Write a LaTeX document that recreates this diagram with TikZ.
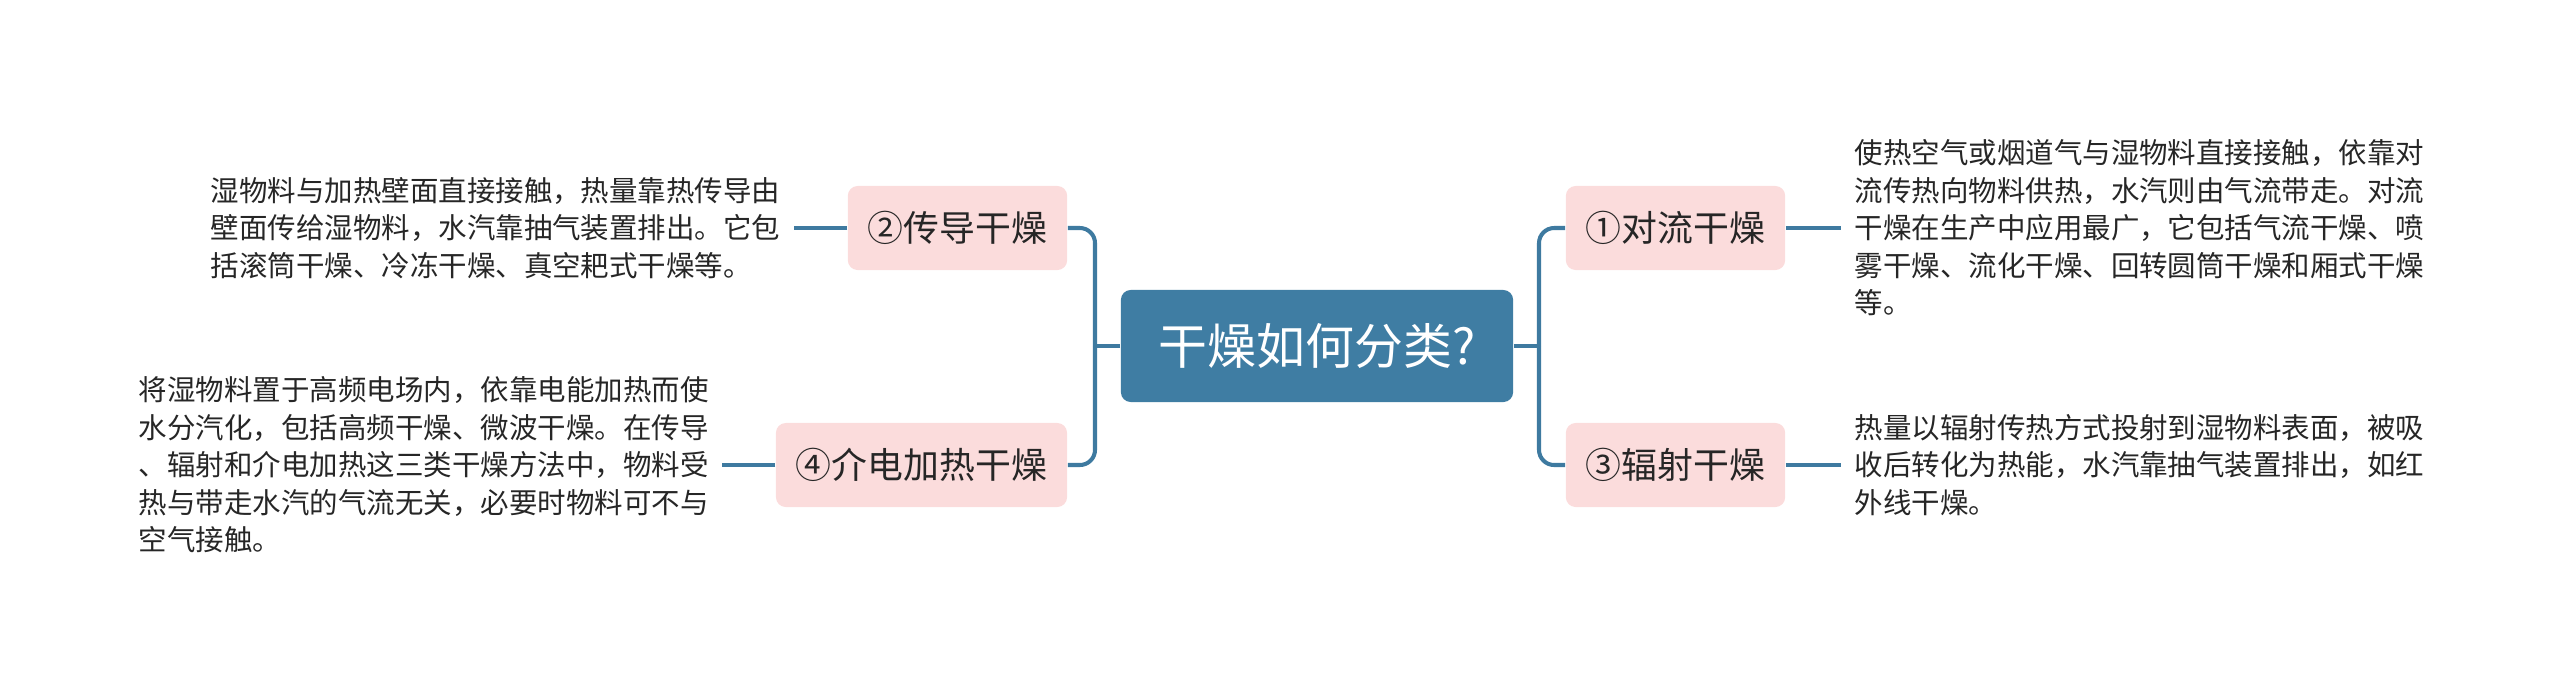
\documentclass[tikz,border=0pt]{standalone}
\usepackage{fontspec}
\setmainfont{Noto Sans CJK SC}
\usetikzlibrary{positioning}
\definecolor{topicblue}{RGB}{63,125,163}
\definecolor{linkblue}{RGB}{62,122,160}
\definecolor{subpink}{RGB}{251,220,220}
\definecolor{inkgray}{RGB}{38,38,38}

\begin{document}
\begin{tikzpicture}[
  x=0.01cm, y=-0.01cm,
  topic/.style={fill=topicblue, rounded corners=2.8pt, text=white,
                font=\fontsize{13.9pt}{16pt}\selectfont, minimum width=3.92cm,
                minimum height=1.12cm, inner sep=0pt},
  sub/.style={fill=subpink, rounded corners=2.8pt, text=inkgray,
              font=\fontsize{10.2pt}{12pt}\selectfont, minimum height=0.84cm,
              inner xsep=0.2cm, inner ysep=0pt},
  note/.style={text=inkgray, font=\fontsize{8.1pt}{10.67pt}\selectfont,
               align=left, inner xsep=0.13cm, inner ysep=0pt},
  link/.style={draw=linkblue, line width=1.15pt, rounded corners=4.3pt}
]
\useasboundingbox (0,0) rectangle (2560,693);

\node[topic] (root) at (1317,346) {干燥如何分类?\hspace{0.26cm}};

\node[sub] (c1) at (1675.5,228) {①对流干燥};
\node[sub] (c3) at (1675.5,465) {③辐射干燥};
\node[sub] (c2) at (957.5,228)  {②传导干燥};
\node[sub] (c4) at (921.5,465)  {④介电加热干燥};

\node[note, right=0.55cm of c1] (d1) {使热空气或烟道气与湿物料直接接触，依靠对\\流传热向物料供热，水汽则由气流带走。对流\\干燥在生产中应用最广，它包括气流干燥、喷\\雾干燥、流化干燥、回转圆筒干燥和厢式干燥\\等。};
\node[note, right=0.55cm of c3] (d3) {热量以辐射传热方式投射到湿物料表面，被吸\\收后转化为热能，水汽靠抽气装置排出，如红\\外线干燥。};
\node[note, left=0.53cm of c2] (d2) {湿物料与加热壁面直接接触，热量靠热传导由\\壁面传给湿物料，水汽靠抽气装置排出。它包\\括滚筒干燥、冷冻干燥、真空耙式干燥等。};
\node[note, left=0.53cm of c4] (d4) {将湿物料置于高频电场内，依靠电能加热而使\\水分汽化，包括高频干燥、微波干燥。在传导\\、辐射和介电加热这三类干燥方法中，物料受\\热与带走水汽的气流无关，必要时物料可不与\\空气接触。};

\coordinate (jl) at (1095,346);
\coordinate (jr) at (1539,346);

\draw[link] (root.west) -- (jl);
\draw[link] (c2.east) -| (jl);
\draw[link] (c4.east) -| (jl);
\draw[link] (root.east) -- (jr);
\draw[link] (c1.west) -| (jr);
\draw[link] (c3.west) -| (jr);

\draw[link] (c1.east) -- (d1.west);
\draw[link] (c3.east) -- (d3.west);
\draw[link] (c2.west) -- (d2.east);
\draw[link] (c4.west) -- (d4.east);
\end{tikzpicture}
\end{document}
